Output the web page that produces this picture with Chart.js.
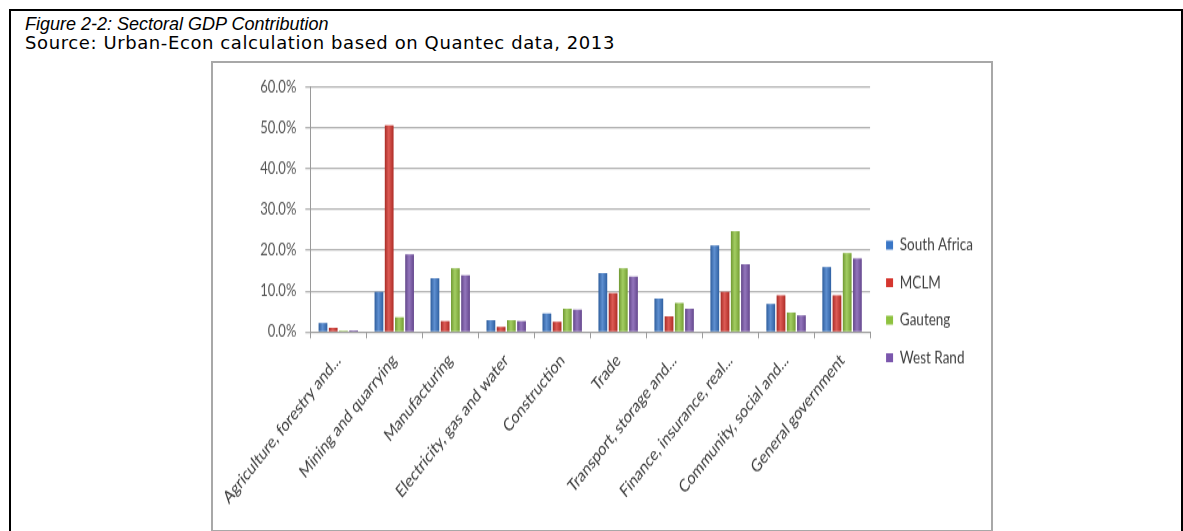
<!DOCTYPE html>
<html>
<head>
<meta charset="utf-8">
<title>Sectoral GDP Contribution</title>
<script src="https://cdn.jsdelivr.net/npm/chart.js@4.4.1/dist/chart.umd.min.js"></script>
<style>
  html, body { margin: 0; padding: 0; background: #fff; }
  body { width: 1183px; height: 531px; overflow: hidden; position: relative; }
  .figure-box { position: absolute; left: 9px; top: 9px; width: 1174px; height: 620px; border: 2px solid #000; box-sizing: border-box; }
  .caption { position: absolute; left: 25px; top: 15px; font: italic 18px/18px 'Liberation Sans', Arial, sans-serif; color: #000; white-space: nowrap; }
  .source { position: absolute; left: 25px; top: 34px; font: 18px/18px 'DejaVu Sans', sans-serif; letter-spacing: 0.6px; color: #000; white-space: nowrap; }
  .chart-frame { position: absolute; left: 211px; top: 61px; width: 782px; height: 471px; border: 2px solid #a8a8a8; box-sizing: border-box; }
  /* the chart is drawn 368px tall and stretched to fill the 468px frame */
  .chart-wrap { position: absolute; left: 212px; top: 62px; width: 780px; height: 368px; transform: scaleY(1.2717); transform-origin: 0 0; }
</style>
</head>
<body>
<div class="figure-box"></div>
<div class="caption">Figure 2-2: Sectoral GDP Contribution</div>
<div class="source">Source: Urban-Econ calculation based on Quantec data, 2013</div>
<div class="chart-frame"></div>
<div class="chart-wrap"><canvas id="gdpChart" width="780" height="368"></canvas></div>

<script>
const sectors = [
  'Agriculture, forestry and...',
  'Mining and quarrying',
  'Manufacturing',
  'Electricity, gas and water',
  'Construction',
  'Trade',
  'Transport, storage and...',
  'Finance, insurance, real...',
  'Community, social and...',
  'General government'
];

// share of GDP by sector, %
const southAfrica = [2.2, 9.8, 13.2, 2.9, 4.5, 14.4, 8.2, 21.2, 6.9, 15.9];
const mclm        = [1.0, 50.6, 2.7, 1.3, 2.5, 9.5, 3.8, 9.8, 9.0, 9.0];
const gauteng     = [0.3, 3.6, 15.6, 2.9, 5.7, 15.6, 7.1, 24.7, 4.8, 19.3];
const westRand    = [0.4, 19.0, 13.9, 2.7, 5.5, 13.6, 5.7, 16.6, 4.1, 18.0];

const yMin = 0;
const yMax = 60;
const yStep = 10;

const labelFont = { family: 'Lato, "Open Sans", sans-serif' };

// rounded "cylinder" look on each bar: dark edges, light middle
const barShading = {
  id: 'barShading',
  afterDatasetsDraw(chart) {
    const c = chart.ctx;
    chart.data.datasets.forEach((ds, i) => {
      chart.getDatasetMeta(i).data.forEach((bar) => {
        const left = bar.x - bar.width / 2;
        const g = c.createLinearGradient(left, 0, left + bar.width, 0);
        g.addColorStop(0, 'rgba(0,0,0,0.22)');
        g.addColorStop(0.45, 'rgba(255,255,255,0.18)');
        g.addColorStop(1, 'rgba(0,0,0,0.18)');
        c.save();
        c.fillStyle = g;
        c.fillRect(left, bar.y, bar.width, bar.base - bar.y);
        c.restore();
      });
    });
  }
};

const ctx = document.getElementById('gdpChart').getContext('2d');
new Chart(ctx, {
  type: 'bar',
  data: {
    labels: sectors,
    datasets: [
      { label: 'South Africa', data: southAfrica, backgroundColor: '#3a76c6' },
      { label: 'MCLM', data: mclm, backgroundColor: '#d5362f' },
      { label: 'Gauteng', data: gauteng, backgroundColor: '#8ec23f' },
      { label: 'West Rand', data: westRand, backgroundColor: '#7b57ad' }
    ]
  },
  options: {
    responsive: false,
    animation: false,
    datasets: {
      bar: { categoryPercentage: 0.73, barPercentage: 0.85, borderWidth: 0 }
    },
    layout: { padding: { top: 19.7, right: 9, bottom: 11.4, left: 0 } },
    plugins: {
      legend: {
        position: 'right',
        labels: {
          boxWidth: 7,
          boxHeight: 7,
          padding: 16,
          color: '#404040',
          font: { ...labelFont, size: 13.5 }
        }
      },
      tooltip: { enabled: false }
    },
    scales: {
      x: {
        grid: { offset: true, drawOnChartArea: false, tickLength: 5, color: '#9a9a9a' },
        border: { color: '#9a9a9a' },
        ticks: {
          autoSkip: false,
          minRotation: 45,
          maxRotation: 45,
          padding: 9,
          color: '#383838',
          font: { ...labelFont, size: 14 }
        },
        afterFit(scale) { scale.height = 144.3; }
      },
      y: {
        min: yMin,
        max: yMax,
        grid: { color: '#b3b3b3', lineWidth: 1.3, tickLength: 5 },
        border: { color: '#9a9a9a' },
        ticks: {
          stepSize: yStep,
          padding: 9,
          color: '#555555',
          font: { ...labelFont, size: 13 },
          callback: (v) => v.toFixed(1) + '%'
        },
        afterFit(scale) { scale.width = 96; }
      }
    }
  },
  plugins: [barShading]
});
</script>
</body>
</html>
